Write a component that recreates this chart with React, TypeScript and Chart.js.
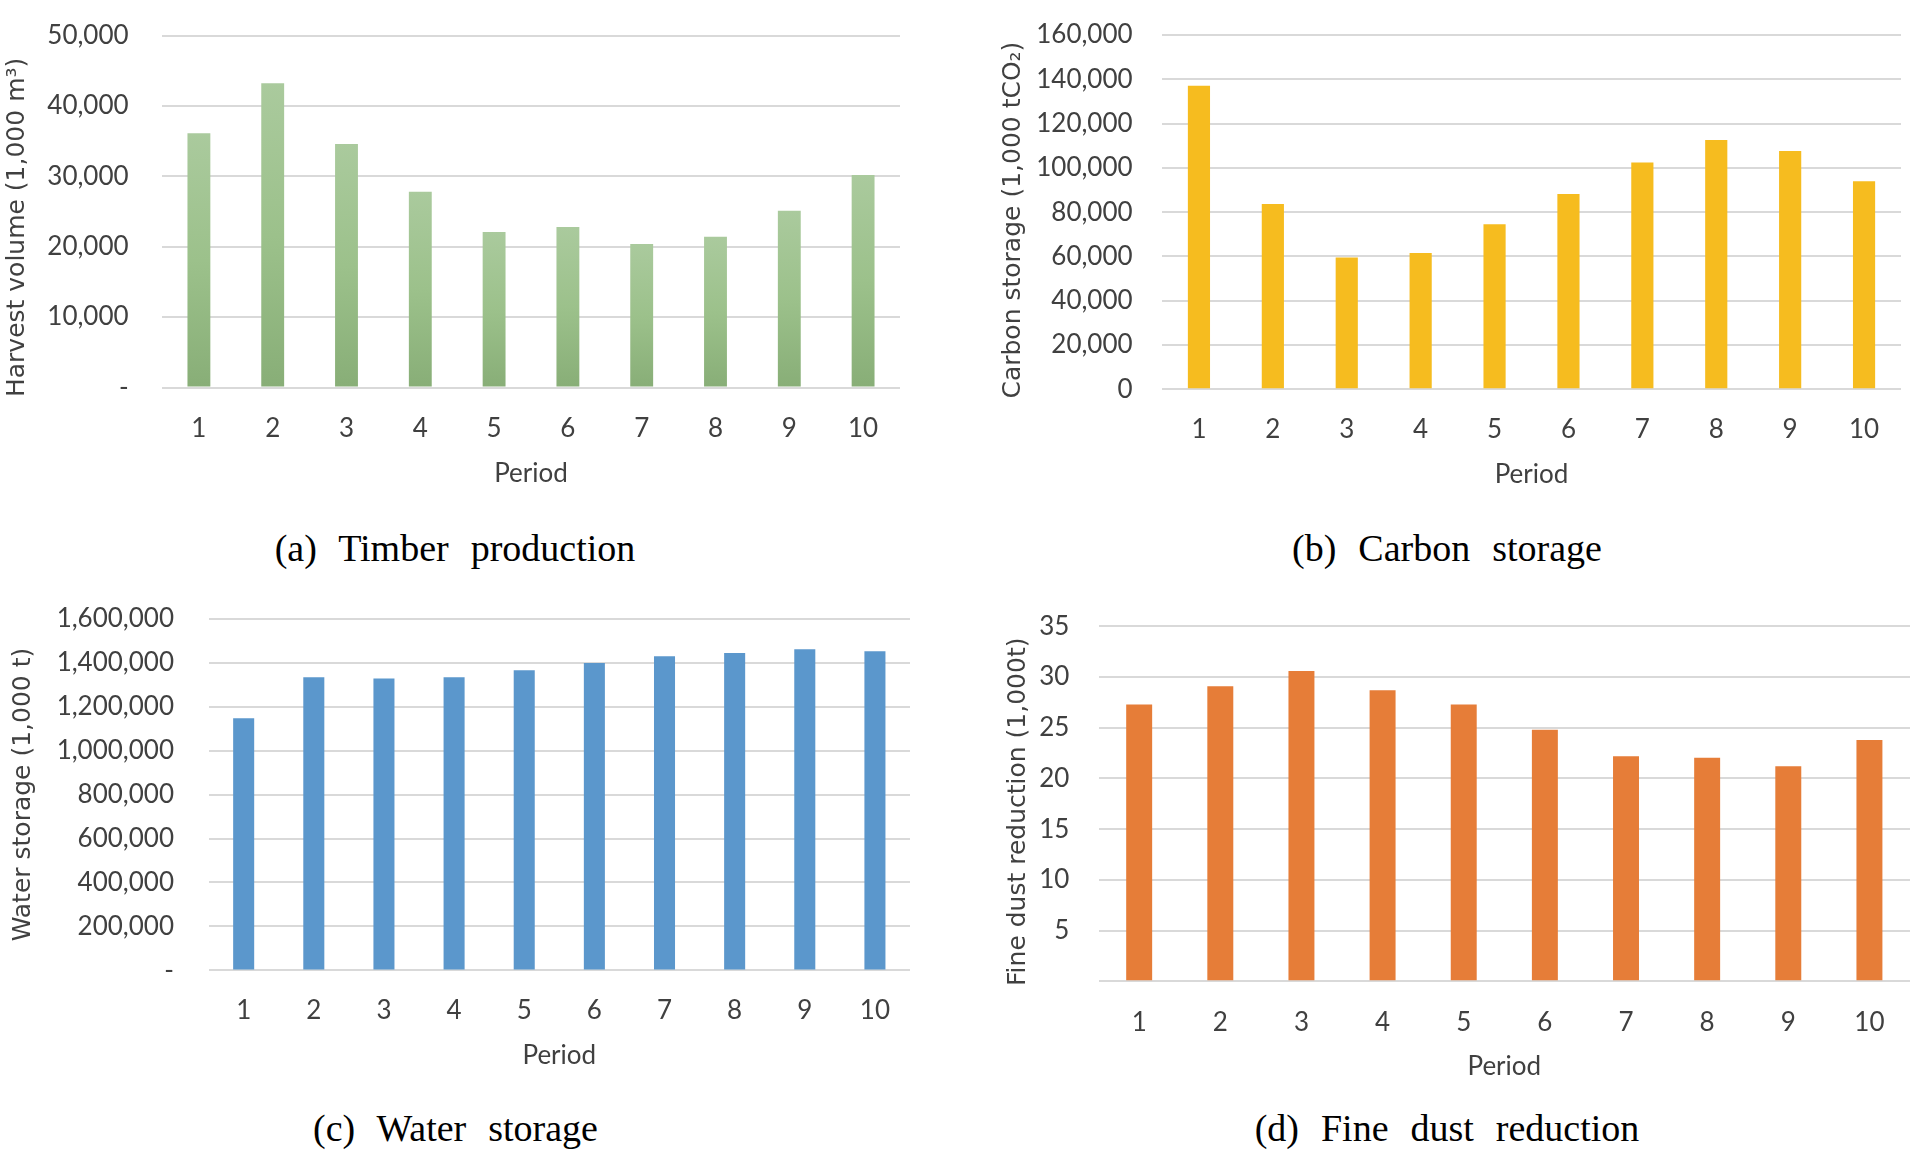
import React, { useEffect, useRef } from "react";
import { Chart, registerables } from "chart.js";

Chart.register(...registerables);

// ---------- data ----------
const periods = ["1", "2", "3", "4", "5", "6", "7", "8", "9", "10"];
const timberValues = [36100, 43200, 34600, 27800, 22100, 22800, 20400, 21400, 25100, 30200];
const carbonValues = [137100, 83700, 59500, 61500, 74500, 88200, 102400, 112600, 107600, 93900];
const waterValues = [1147000, 1334000, 1328000, 1334000, 1366000, 1398000, 1429000, 1444000, 1461000, 1452000];
const dustValues = [27.3, 29.1, 30.6, 28.7, 27.3, 24.8, 22.2, 22.05, 21.2, 23.8];

const NB = "\u00A0";

type Panel = {
  left: number; top: number; width: number; height: number;
  values: number[];
  color: string | "gradient";
  yMax: number; yStep: number; zeroLabel: string;
  yTitle: string;
  yAxisWidth: number; yTickPad: number; yTitlePad: number;
  padTop: number; padRight: number;
  xAxisHeight: number; xTickPad: number; xTitlePad: number;
  barPct: number;
  caption: string; captionX: number; captionBaseline: number;
};

const panels: Panel[] = [
  {
    left: 0, top: 0, width: 910, height: 500,
    values: timberValues, color: "gradient",
    yMax: 50000, yStep: 10000, zeroLabel: "-",
    yTitle: "Harvest volume (1,000 m\u00B3)" + NB.repeat(4),
    yAxisWidth: 162, yTickPad: 33.4, yTitlePad: 2.0,
    padTop: 35.5, padRight: 10,
    xAxisHeight: 112.5, xTickPad: 25.5, xTitlePad: 10.4,
    barPct: 0.31,
    caption: "(a) Timber production", captionX: 455, captionBaseline: 561,
  },
  {
    left: 960, top: 0, width: 953, height: 500,
    values: carbonValues, color: "#F6BC1F",
    yMax: 160000, yStep: 20000, zeroLabel: "0",
    yTitle: "Carbon storage (1,000 tCO\u2082)" + NB.repeat(2),
    yAxisWidth: 202, yTickPad: 29.4, yTitlePad: 38.5,
    padTop: 35, padRight: 12,
    xAxisHeight: 110.7, xTickPad: 25.1, xTitlePad: 9.4,
    barPct: 0.30,
    caption: "(b) Carbon storage", captionX: 1447, captionBaseline: 561,
  },
  {
    left: 0, top: 580, width: 920, height: 500,
    values: waterValues, color: "#5B97CC",
    yMax: 1600000, yStep: 200000, zeroLabel: "-",
    yTitle: "Water storage (1,000 t)",
    yAxisWidth: 208.6, yTickPad: 34.6, yTitlePad: 8.9,
    padTop: 38.7, padRight: 10,
    xAxisHeight: 109.6, xTickPad: 24.5, xTitlePad: 8.4,
    barPct: 0.30,
    caption: "(c) Water storage", captionX: 455.5, captionBaseline: 1141,
  },
  {
    left: 960, top: 580, width: 953, height: 510,
    values: dustValues, color: "#E67D38",
    yMax: 35, yStep: 5, zeroLabel: "",
    yTitle: "Fine dust reduction (1,000t)" + NB.repeat(2),
    yAxisWidth: 138.6, yTickPad: 29.2, yTitlePad: 43.7,
    padTop: 46.3, padRight: 3,
    xAxisHeight: 108.7, xTickPad: 25.6, xTitlePad: 7.4,
    barPct: 0.32,
    caption: "(d) Fine dust reduction", captionX: 1447, captionBaseline: 1141,
  },
];

const TICK_FONT = { family: "Lato, 'Open Sans', sans-serif", size: 26 };
const TITLE_FONT = { family: "'DejaVu Sans', Verdana, sans-serif", size: 25 };
const TEXT_COLOR = "#404040";
const GRID_COLOR = "#D9D9D9";

function ChartPanel({ p }: { p: Panel }) {
  const ref = useRef<HTMLCanvasElement | null>(null);
  useEffect(() => {
    if (!ref.current) return;
    const bg =
      p.color === "gradient"
        ? (ctx: any) => {
            const chart = ctx.chart;
            const y = chart.scales?.y;
            if (!y || ctx.type !== "data") return "#98BC88";
            const top = y.getPixelForValue(ctx.raw);
            const base = y.getPixelForValue(0);
            if (!isFinite(top) || !isFinite(base) || top === base) return "#98BC88";
            const g = chart.ctx.createLinearGradient(0, top, 0, base);
            g.addColorStop(0, "#AACA9D");
            g.addColorStop(0.5, "#9CC18B");
            g.addColorStop(1, "#88AE77");
            return g;
          }
        : p.color;
    const chart = new Chart(ref.current, {
      type: "bar",
      data: {
        labels: periods,
        datasets: [
          {
            data: p.values,
            backgroundColor: bg as any,
            borderWidth: 0,
            barPercentage: p.barPct,
            categoryPercentage: 1,
          },
        ],
      },
      options: {
        responsive: false,
        animation: false,
        devicePixelRatio: 1,
        layout: { padding: { top: p.padTop, right: p.padRight, left: 0, bottom: 0 } },
        plugins: { legend: { display: false }, tooltip: { enabled: false }, title: { display: false } },
        scales: {
          x: {
            grid: { display: false, drawTicks: false },
            border: { display: false },
            ticks: {
              color: TEXT_COLOR,
              font: TICK_FONT,
              padding: p.xTickPad,
              autoSkip: false,
              maxRotation: 0,
            },
            title: {
              display: true,
              text: "Period",
              color: TEXT_COLOR,
              font: TICK_FONT,
              padding: { top: 0, bottom: p.xTitlePad },
            },
            afterFit: (s: any) => {
              s.height = p.xAxisHeight;
              s.paddingLeft = 0;
              s.paddingRight = 0;
            },
          },
          y: {
            min: 0,
            max: p.yMax,
            grid: { color: GRID_COLOR, lineWidth: 2, drawTicks: false },
            border: { display: false },
            ticks: {
              stepSize: p.yStep,
              color: TEXT_COLOR,
              font: TICK_FONT,
              padding: p.yTickPad,
              callback: (v: any) => (Number(v) === 0 ? p.zeroLabel : Number(v).toLocaleString("en-US")),
            },
            title: {
              display: true,
              text: p.yTitle,
              color: TEXT_COLOR,
              font: TITLE_FONT,
              padding: { top: p.yTitlePad, bottom: 0 },
            },
            afterFit: (s: any) => {
              s.width = p.yAxisWidth;
              s.paddingTop = 0;
              s.paddingBottom = 0;
            },
          },
        },
      },
    });
    return () => chart.destroy();
  }, [p]);
  return (
    <canvas
      ref={ref}
      width={p.width}
      height={p.height}
      style={{ position: "absolute", left: p.left, top: p.top, width: p.width, height: p.height }}
    />
  );
}

export default function App() {
  return (
    <div style={{ position: "absolute", left: 0, top: 0, width: 1913, height: 1152, background: "#ffffff", overflow: "hidden" }}>
      {panels.map((p, i) => (
        <ChartPanel key={i} p={p} />
      ))}
      {panels.map((p, i) => (
        <div
          key={"c" + i}
          style={{
            position: "absolute",
            left: p.captionX,
            top: p.captionBaseline - 31.8,
            transform: "translateX(-50%)",
            whiteSpace: "nowrap",
            fontFamily: "'Liberation Serif', 'Times New Roman', serif",
            fontSize: 38,
            lineHeight: "38px",
            wordSpacing: 12.5,
            color: "#000000",
          }}
        >
          {p.caption}
        </div>
      ))}
    </div>
  );
}
